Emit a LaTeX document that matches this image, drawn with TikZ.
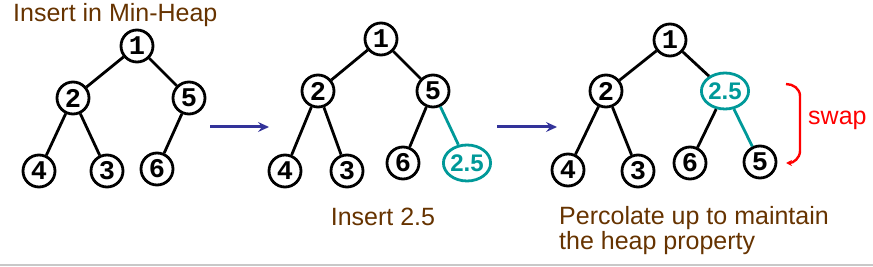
\documentclass[tikz,border=0pt]{standalone}
\usepackage{fontspec}
\setmainfont{Liberation Sans}
\newfontfamily\keyfont{Liberation Mono}
\usetikzlibrary{arrows.meta,shapes.geometric}
\definecolor{labelbrown}{RGB}{102,51,0}
\definecolor{newteal}{RGB}{0,153,153}
\definecolor{stepblue}{RGB}{51,51,153}
\definecolor{swapred}{RGB}{255,0,0}
\definecolor{rulegray}{RGB}{200,200,200}

\begin{document}
\begin{tikzpicture}[
    x=1pt, y=-1pt,
    key/.style={circle, draw, line width=2.8pt, minimum size=32pt, inner sep=0pt, font=\keyfont\bfseries\fontsize{27}{27}\selectfont},
    newkey/.style={ellipse, draw=newteal, line width=2.8pt, minimum width=44pt, minimum height=36pt, inner sep=0pt, text=newteal, font=\bfseries\fontsize{24}{24}\selectfont},
    link/.style={line width=2.8pt},
    newlink/.style={line width=2.8pt, newteal},
    stepline/.style={-{Stealth[length=11pt,width=10pt,inset=4pt]}, line width=3pt, stepblue},
    swapline/.style={-{Stealth[length=6pt,width=6pt]}, line width=2.4pt, swapred},
    caption/.style={text=labelbrown, font=\fontsize{25}{25}\selectfont, inner sep=0pt},
    note/.style={text=swapred, font=\fontsize{25}{25}\selectfont, inner sep=0pt}
]
\useasboundingbox (0,0) rectangle (873,267);

% ============ (a) Min-Heap ============
\node[caption, anchor=base west] (title-a) at (13,22) {Insert in Min-Heap};

\node[key] (a1) at (137,46) {1};
\node[key] (a2) at (73,98) {2};
\node[key] (a5) at (189,98) {5};
\node[key] (a4) at (39,171) {4};
\node[key] (a3) at (107,171) {3};
\node[key] (a6) at (157,169) {6};

\draw[link] (a1) -- (a2);
\draw[link] (a1) -- (a5);
\draw[link] (a2) -- (a4);
\draw[link] (a2) -- (a3);
\draw[link] (a5) -- (a6);

\draw[stepline] (210,127) coordinate (ab-from) -- (269,127) coordinate (ab-to);

% ============ (b) Insert ============
\node[key] (b1) at (381,39) {1};
\node[key] (b2) at (318,91) {2};
\node[key] (b5) at (433,91) {5};
\node[key] (b4) at (285,171) {4};
\node[key] (b3) at (347,171) {3};
\node[key] (b6) at (403,163) {6};
\node[newkey] (b25) at (467,163) {2.5};

\draw[link] (b1) -- (b2);
\draw[link] (b1) -- (b5);
\draw[link] (b2) -- (b4);
\draw[link] (b2) -- (b3);
\draw[link] (b5) -- (b6);
\draw[newlink] (b5) -- (b25);

\node[caption, anchor=base] (title-b) at (383,225) {Insert 2.5};

\draw[stepline] (497,127) coordinate (bc-from) -- (557,127) coordinate (bc-to);

% ============ (c) Percolate up ============
\node[key] (c1) at (670,40) {1};
\node[key] (c2) at (606,91) {2};
\node[newkey] (c25) at (725,91) {2.5};
\node[key] (c4) at (568,170) {4};
\node[key] (c3) at (638,171) {3};
\node[key] (c6) at (690,163) {6};
\node[key] (c5) at (760,162) {5};

\draw[link] (c1) -- (c2);
\draw[link] (c1) -- (c25);
\draw[link] (c2) -- (c4);
\draw[link] (c2) -- (c3);
\draw[link] (c25) -- (c6);
\draw[newlink] (c25) -- (c5);

\coordinate (swap-top) at (786,84);
\coordinate (swap-bot) at (786,163);
\draw[swapline] (swap-top) to[out=0,in=90] (800,96) -- (800,151) to[out=-90,in=0] (swap-bot);
\node[note, anchor=base west] (swap) at (808,125) {swap};

\node[caption, anchor=north west, align=left] (title-c) at (559,206) {Percolate up to maintain\\the heap property};

\draw[line width=2pt, rulegray] (0,265) coordinate (rule-l) -- (873,265) coordinate (rule-r);

\end{tikzpicture}
\end{document}
